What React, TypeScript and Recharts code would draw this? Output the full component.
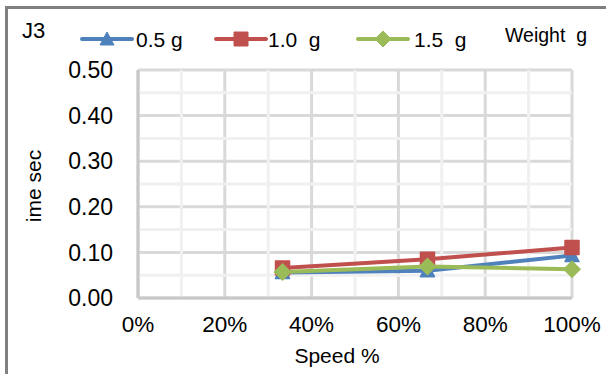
import { LineChart, Line, XAxis, YAxis, CartesianGrid, ReferenceLine } from "recharts"

const speeds = [0.333, 0.667, 1.0]
const w05 = [0.056, 0.060, 0.093]
const w10 = [0.066, 0.085, 0.111]
const w15 = [0.057, 0.069, 0.063]

const xTicks = [0, 0.2, 0.4, 0.6, 0.8, 1.0]
const yTicks = [0, 0.1, 0.2, 0.3, 0.4, 0.5]
const xMinor = [0.1, 0.3, 0.5, 0.7, 0.9]
const yMinor = [0.05, 0.15, 0.25, 0.35, 0.45]

const series = [
  { key: "w05", name: "0.5 g", color: "#4f81bd", shape: "triangle" },
  { key: "w10", name: "1.0  g", color: "#c0504d", shape: "square" },
  { key: "w15", name: "1.5  g", color: "#9bbb59", shape: "diamond" },
]

const data = speeds.map((s, i) => ({ speed: s, w05: w05[i], w10: w10[i], w15: w15[i] }))

const FONT = "'Liberation Sans', Arial, sans-serif"

const markerPath = (shape: string, cx: number, cy: number) => {
  if (shape === "triangle") return `M${cx},${cy - 7} L${cx + 7},${cy + 6} L${cx - 7},${cy + 6} Z`
  if (shape === "square") return `M${cx - 7},${cy - 7} h14 v14 h-14 Z`
  return `M${cx},${cy - 8} L${cx + 8},${cy} L${cx},${cy + 8} L${cx - 8},${cy} Z`
}

const makeDot = (shape: string, color: string) => (p: any) => {
  if (p.cx == null || p.cy == null) return <g key={p.index} />
  return <path key={p.index} d={markerPath(shape, p.cx, p.cy)} fill={color} stroke={color} strokeWidth={1.5} strokeLinejoin="round" />
}

// legend: line start, text start
const iconX = [80, 214, 356]
const textX = [136, 268, 414]

export default function App() {
  return (
    <div style={{ position: "absolute", left: 0, top: 0, width: 606, height: 374, overflow: "hidden", background: "#fff", fontFamily: FONT }}>
      <div style={{ position: "absolute", left: 5, top: 6, width: 700, height: 500, borderLeft: "3px solid #808080", borderTop: "3px solid #808080" }} />

      <div style={{ position: "absolute", left: 22, top: 19, fontSize: 22, color: "#000", lineHeight: "24px" }}>J3</div>

      {series.map((s, i) => (
        <div key={s.key}>
          <svg width={56} height={24} style={{ position: "absolute", left: iconX[i], top: 27 }}>
            <line x1={2} y1={12} x2={52} y2={12} stroke={s.color} strokeWidth={4} strokeLinecap="round" />
            <path d={markerPath(s.shape, 27, 12)} fill={s.color} stroke={s.color} strokeWidth={1} />
          </svg>
          <span style={{ position: "absolute", left: textX[i], top: 28, lineHeight: "24px", fontSize: 21, color: "#000", whiteSpace: "pre" }}>{s.name}</span>
        </div>
      ))}

      <div style={{ position: "absolute", left: 505, top: 24, lineHeight: "22px", fontSize: 19.5, color: "#000", whiteSpace: "pre" }}>Weight  g</div>

      <div style={{ position: "absolute", left: 34, top: 186, transform: "translate(-50%,-50%) rotate(-90deg)", fontSize: 21, color: "#000", whiteSpace: "pre" }}>ime sec</div>
      <div style={{ position: "absolute", left: 337, top: 356, transform: "translate(-50%,-50%)", fontSize: 21, color: "#000", whiteSpace: "pre" }}>Speed %</div>

      <LineChart width={606} height={374} data={data} margin={{ top: 70, right: 34, left: 0, bottom: 46 }} style={{ position: "absolute", left: 0, top: 0 }}>
        {xMinor.map(v => <ReferenceLine key={"x" + v} x={v} stroke="#f0f0f0" strokeWidth={3} />)}
        {yMinor.map(v => <ReferenceLine key={"y" + v} y={v} stroke="#f0f0f0" strokeWidth={3} />)}
        <CartesianGrid stroke="#d9d9d9" strokeWidth={3} />
        <XAxis type="number" dataKey="speed" domain={[0, 1]} ticks={xTicks} height={30}
          tickFormatter={(v: number) => `${Math.round(v * 100)}%`}
          tick={{ fontSize: 22.5, fill: "#000", fontFamily: FONT }}
          axisLine={{ stroke: "#c8c8c8", strokeWidth: 3 }} tickLine={false} tickMargin={12} interval={0} />
        <YAxis type="number" domain={[0, 0.5]} ticks={yTicks} width={138}
          tickFormatter={(v: number) => v.toFixed(2)}
          tick={{ fontSize: 23, fill: "#000", fontFamily: FONT }}
          axisLine={{ stroke: "#c8c8c8", strokeWidth: 3 }} tickLine={false} tickMargin={19} interval={0} />
        {series.map(s => (
          <Line key={s.key} type="linear" dataKey={s.key} stroke={s.color} strokeWidth={4}
            dot={makeDot(s.shape, s.color)} activeDot={false} isAnimationActive={false} />
        ))}
      </LineChart>
    </div>
  )
}
